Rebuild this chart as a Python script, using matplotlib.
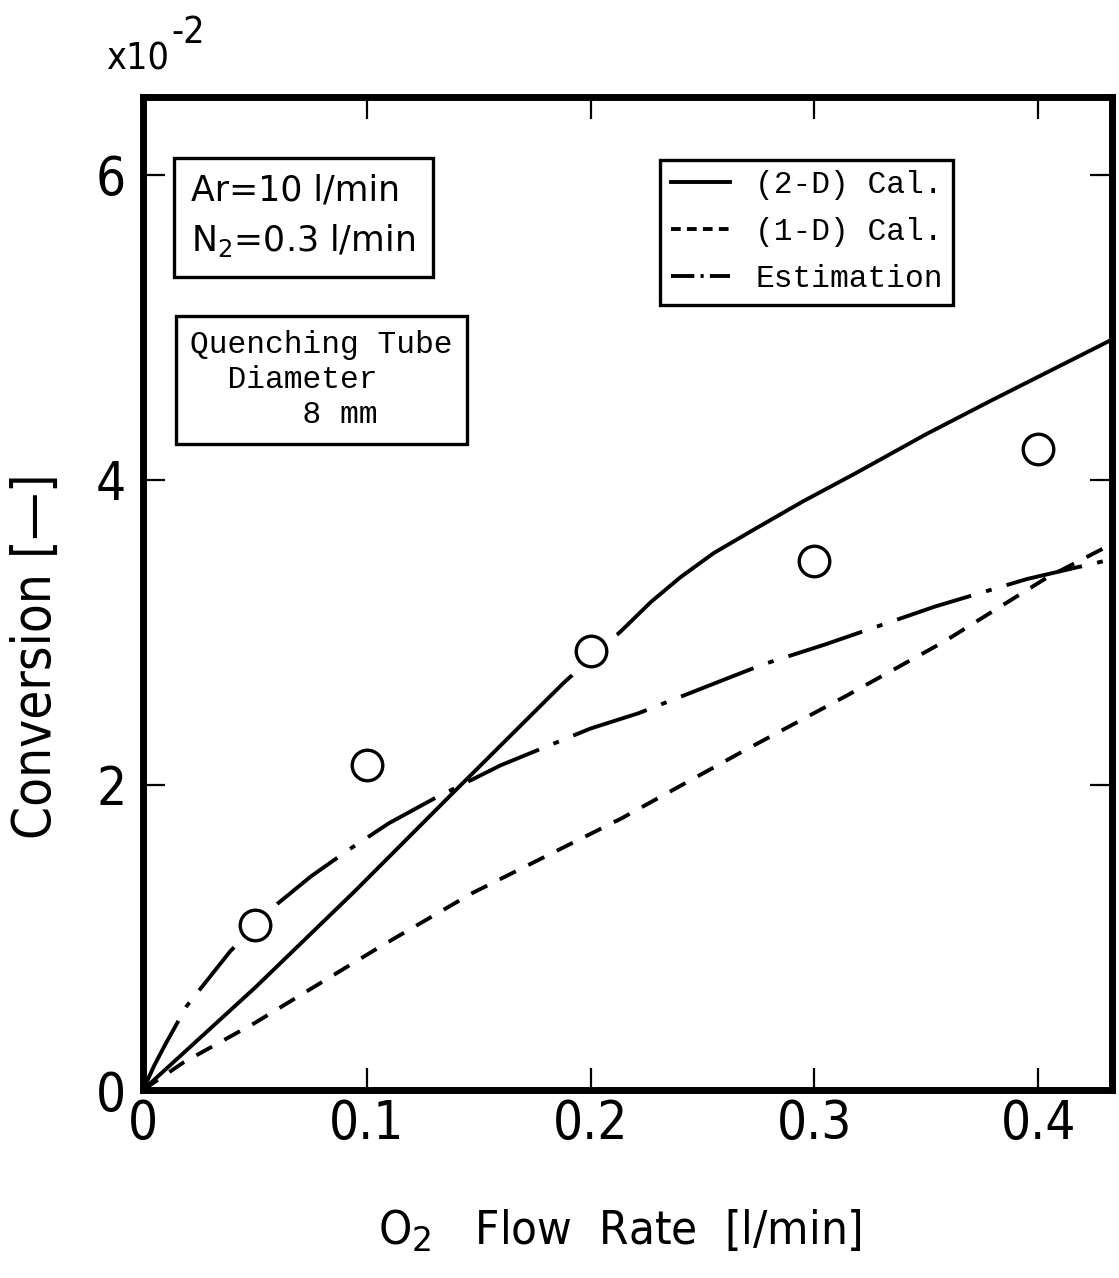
import matplotlib
matplotlib.use('Agg')
import matplotlib.pyplot as plt
from matplotlib.lines import Line2D

# O2 flow rate [l/min] vs conversion [x10^-2]
x_exp = [0.05, 0.1, 0.2, 0.3, 0.4]
y_exp = [1.08, 2.13, 2.88, 3.47, 4.20]

x_2d = [0, 0.05, 0.0944, 0.14, 0.188, 0.2137, 0.227, 0.24, 0.255, 0.2725, 0.295, 0.318, 0.35, 0.379, 0.433]
y_2d = [0, 0.67, 1.30, 1.97, 2.67, 3.01, 3.20, 3.36, 3.52, 3.67, 3.86, 4.04, 4.30, 4.52, 4.92]

x_1d = [0, 0.018, 0.05, 0.106, 0.147, 0.2137, 0.268, 0.315, 0.358, 0.404, 0.433]
y_1d = [0, 0.18, 0.44, 0.94, 1.29, 1.78, 2.22, 2.59, 2.94, 3.36, 3.58]

x_est = [0, 0.005, 0.01, 0.0195, 0.039, 0.06, 0.075, 0.0914, 0.11, 0.13, 0.16, 0.2, 0.2214, 0.277, 0.3046, 0.354, 0.395, 0.433]
y_est = [0, 0.16, 0.30, 0.55, 0.91, 1.22, 1.40, 1.57, 1.75, 1.91, 2.13, 2.37, 2.47, 2.79, 2.92, 3.17, 3.35, 3.48]

legend_labels = ['(2-D) Cal.', '(1-D) Cal.', 'Estimation']
xticks = [0, 0.1, 0.2, 0.3, 0.4]
xtick_labels = ['0', '0.1', '0.2', '0.3', '0.4']
yticks = [0, 2, 4, 6]

sans = 'DejaVu Sans'
mono = 'Liberation Mono'
lw = 2.8

fig = plt.figure(figsize=(11.19, 12.78), dpi=100)
ax = fig.add_axes([0.1278, 0.1471, 0.866, 0.777])

ax.plot(x_2d, y_2d, color='k', lw=lw, ls='-', zorder=2)
ax.plot(x_1d, y_1d, color='k', lw=lw, dashes=(4.6, 3.6), zorder=2)
ax.plot(x_est, y_est, color='k', lw=lw, dashes=(20, 4, 1.5, 4), zorder=2)

# white halo so the lines break around the circles
ax.plot(x_exp, y_exp, ls='none', marker='o', ms=44, mfc='white', mec='none', zorder=3)
ax.plot(x_exp, y_exp, ls='none', marker='o', ms=22, mfc='white', mec='k', mew=2.4, zorder=4)

ax.set_xlim(0, 0.433)
ax.set_ylim(0, 6.51)
ax.set_xticks(xticks)
ax.set_xticklabels(xtick_labels)
ax.set_yticks(yticks)
ax.tick_params(direction='in', top=True, right=True, length=16, width=1.6)
ax.tick_params(axis='x', pad=6)
ax.tick_params(axis='y', pad=12)
for lab in ax.get_xticklabels() + ax.get_yticklabels():
	lab.set_fontsize(38)
	lab.set_fontfamily(sans)
	lab.set_fontstretch('condensed')
for sp in ax.spines.values():
	sp.set_linewidth(5)

ax.set_xlabel('O$_2$   Flow  Rate  [l/min]', fontsize=34, fontfamily=sans, fontstretch='condensed')
ax.xaxis.set_label_coords(0.492, -0.119)
ax.set_ylabel('Conversion [—]', fontsize=38, fontfamily=sans, fontstretch='condensed')
ax.yaxis.set_label_coords(-0.084, 0.437)
fig.text(0.095, 0.946, 'x10', fontsize=27, fontfamily=sans, fontstretch='condensed')
fig.text(0.153, 0.966, '-2', fontsize=27, fontfamily=sans, fontstretch='condensed')

ax.text(0.05, 0.9225, 'Ar=10 l/min\nN$_2$=0.3 l/min', transform=ax.transAxes, ha='left', va='top',
	fontsize=25, linespacing=1.5, bbox=dict(boxstyle='square,pad=0.5', fc='white', ec='k', lw=2.4))
ax.text(0.0485, 0.765, 'Quenching Tube\n  Diameter\n      8 mm', transform=ax.transAxes, ha='left', va='top',
	fontsize=22.5, fontfamily=mono, linespacing=1.2, bbox=dict(boxstyle='square,pad=0.45', fc='white', ec='k', lw=2.4))

handles = [Line2D([], [], color='k', lw=lw, ls='-'),
	Line2D([], [], color='k', lw=lw, dashes=(2.5, 1.6)),
	Line2D([], [], color='k', lw=lw, dashes=(6, 1.6, 0.8, 1.6))]
leg = ax.legend(handles, legend_labels, loc='upper left', bbox_to_anchor=(0.534, 0.937), prop={'family': mono, 'size': 22.5},
	handlelength=1.9, handletextpad=0.8, frameon=True, fancybox=False, borderaxespad=0, borderpad=0.33, labelspacing=0.55)
leg.get_frame().set_edgecolor('k')
leg.get_frame().set_linewidth(2.4)
leg.get_frame().set_alpha(1)

fig.savefig('out.png', dpi=100)
